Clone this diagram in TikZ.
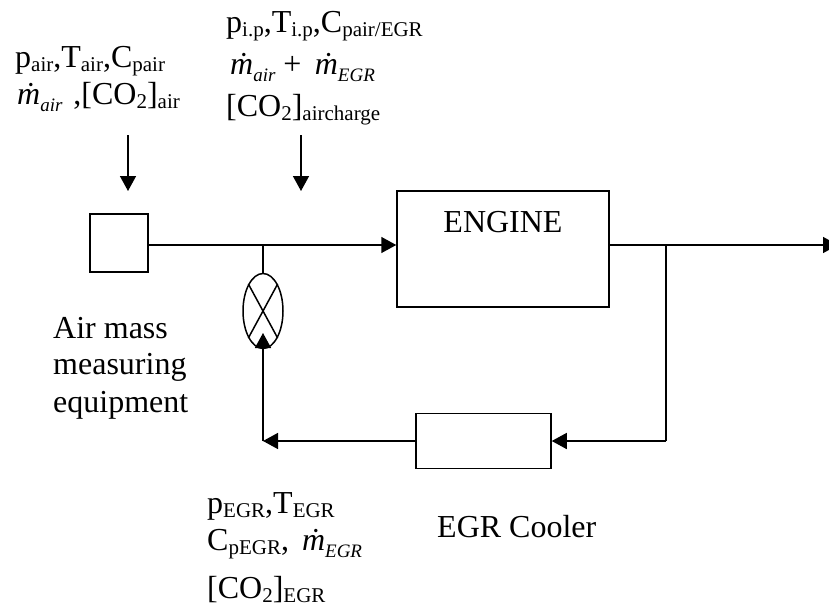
\documentclass[tikz,border=0pt]{standalone}
\usepackage{fontspec}
\setmainfont{Liberation Serif}
\usetikzlibrary{arrows.meta,shapes.geometric,shapes.misc}
\tikzset{
 px/.style={x=1pt,y=-1pt},
 box/.style={draw,line width=1.5pt,inner sep=0pt,fill=white},
 lbl/.style={inner sep=0pt,anchor=base west,font=\fontsize{32}{38}\selectfont},
 arr/.style={draw,line width=1.5pt,-{Triangle[length=15pt,width=16pt]}},
 ln/.style={draw,line width=1.5pt}
}
\newcommand{\lowtext}[1]{\raisebox{-4pt}{\fontsize{21}{25}\selectfont #1}}
\newcommand{\lowital}[1]{\raisebox{-7pt}{\fontsize{19}{23}\selectfont\itshape #1}}
\newcommand{\mflow}[1]{{\itshape\.m}\lowital{#1}}
\begin{document}
\begin{tikzpicture}[px]
\useasboundingbox (0,0) rectangle (829,607);
\node[box,minimum width=58pt,minimum height=58pt] (sensor) at (119,243) {};
\node[box,minimum width=212pt,minimum height=116pt] (engine) at (503,249) {};
\node[lbl,anchor=base] (enginetext) at (503,232) {ENGINE};
\node[box,minimum width=135pt,minimum height=55pt] (cooler) at (483.5,441) {};
\node[draw,ellipse,line width=1.5pt,minimum width=40pt,minimum height=75pt,inner sep=0pt,fill=white] (valve) at (263,311) {};
\draw[line width=1.5pt] (valve.north west) -- (valve.south east) (valve.north east) -- (valve.south west);
\coordinate (jin) at (263,245);
\coordinate (jout) at (666,245);
\coordinate (jb) at (666,441);
\coordinate (jv) at (263,441);
\coordinate (vtip) at (263,333);
\coordinate (exit) at (838,245);
\coordinate (a1) at (128,135);
\coordinate (a1e) at (128,191);
\coordinate (a2) at (301,135);
\coordinate (a2e) at (301,191);
\draw[arr] (sensor.east |- jin) -- (engine.west |- jin);
\draw[ln] (jin) -- (valve.north);
\draw[arr] (engine.east |- jout) -- (exit);
\draw[ln] (jout) -- (jb);
\draw[arr] (jb) -- (cooler.east);
\draw[arr] (cooler.west) -- (jv);
\draw[arr] (jv) -- (vtip);
\draw[arr] (a1) -- (a1e);
\draw[arr] (a2) -- (a2e);
\node[lbl] (t1) at (15,68) {p\lowtext{air},T\lowtext{air},C\lowtext{pair}};
\node[lbl] (t2) at (17,105) {\mflow{air}\kern3pt{} ,[CO\lowtext{2}]\lowtext{air}};
\node[lbl] (t3) at (226,33) {p\lowtext{i.p},T\lowtext{i.p},C\lowtext{pair/EGR}};
\node[lbl] (t4) at (230,75) {\mflow{air} + \,\mflow{EGR}};
\node[lbl] (t5) at (226,117) {[CO\lowtext{2}]\lowtext{aircharge}};
\node[lbl] (t6a) at (53,338) {Air mass};
\node[lbl] (t6b) at (53,374) {measuring};
\node[lbl] (t6c) at (53,412) {equipment};
\node[lbl] (t7) at (207,513) {p\lowtext{EGR},T\lowtext{EGR}};
\node[lbl] (t8) at (207,550) {C\lowtext{pEGR},\kern5pt{} \mflow{EGR}};
\node[lbl] (t9) at (207,598) {[CO\lowtext{2}]\lowtext{EGR}};
\node[lbl] (t10) at (437,537) {EGR Cooler};
\end{tikzpicture}
\end{document}
